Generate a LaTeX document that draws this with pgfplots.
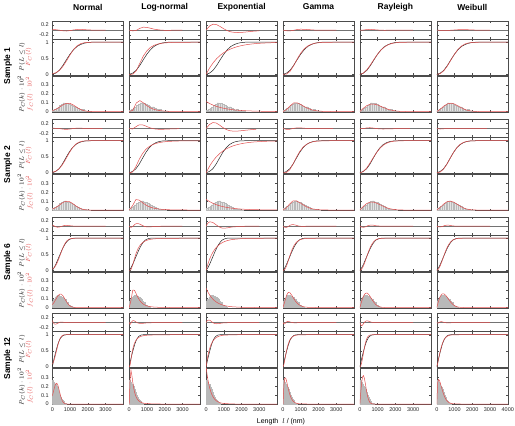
\documentclass[border=0pt]{standalone}
\usepackage{fontspec}
\setmainfont{Liberation Sans}
\usepackage{pgfplots}
\usepackage{pgfplotstable}
\pgfplotsset{compat=1.18}
\definecolor{fitred}{RGB}{226,78,78}

\pgfplotstableread{
l P FN fN RN FL fL RL FE fE RE FG fG RG FR fR RR FW fW RW
0 0 0.017 0.0103 0.017 0 0 0 0 0.1129 0 0 0 0 0 0 0 0 0 0
200 0.04 0.051 0.0251 0.011 0.0048 0.0139 -0.035 0.202 0.0901 0.162 0.0103 0.0235 -0.030 0.039 0.0384 -0.001 0.0244 0.0277 -0.016
400 0.13 0.124 0.0487 -0.006 0.1145 0.0968 -0.016 0.363 0.0719 0.233 0.094 0.0649 -0.036 0.148 0.0682 0.018 0.1145 0.0619 -0.015
600 0.28 0.248 0.0753 -0.032 0.3475 0.1232 0.068 0.492 0.0574 0.212 0.270 0.0963 -0.010 0.302 0.0837 0.022 0.266 0.0869 -0.014
800 0.46 0.419 0.0930 -0.041 0.5726 0.0981 0.113 0.595 0.0457 0.135 0.479 0.098 0.019 0.473 0.0843 0.013 0.451 0.0944 -0.009
1000 0.63 0.607 0.0916 -0.023 0.7354 0.0655 0.105 0.677 0.0365 0.047 0.662 0.0795 0.032 0.632 0.0736 0.002 0.632 0.0846 0.002
1200 0.77 0.773 0.0718 0.003 0.8399 0.0406 0.070 0.742 0.0291 -0.028 0.797 0.0558 0.027 0.763 0.0569 -0.007 0.781 0.0637 0.011
1400 0.87 0.890 0.0449 0.020 0.9035 0.0244 0.034 0.794 0.0233 -0.076 0.885 0.0352 0.015 0.859 0.0395 -0.011 0.886 0.0408 0.016
1600 0.93 0.955 0.0224 0.025 0.9418 0.0146 0.012 0.836 0.0185 -0.094 0.9376 0.0206 0.008 0.923 0.0247 -0.007 0.948 0.0222 0.018
1800 0.97 0.985 0.0089 0.015 0.9645 0.0087 -0.005 0.869 0.0148 -0.101 0.9675 0.0115 -0.002 0.961 0.0141 -0.009 0.979 0.0104 0.009
2000 0.99 0.996 0.0028 0.006 0.9781 0.0052 -0.012 0.895 0.0119 -0.095 0.9835 0.0061 -0.006 0.982 0.0073 -0.008 0.9927 0.0041 0.003
2200 1 0.999 0.0007 -0.001 0.9863 0.0032 -0.014 0.917 0.0094 -0.083 0.9918 0.0031 -0.008 0.992 0.0035 -0.008 0.9978 0.0014 -0.002
2400 1 1 0.0001 0 0.9913 0.0019 -0.009 0.933 0.0076 -0.067 0.996 0.0016 -0.004 0.9969 0.0015 -0.003 0.9994 0.0004 -0.001
2600 1 1 0 0 0.9945 0.0012 -0.005 0.947 0.0060 -0.053 0.998 0.0008 -0.002 0.9988 0.0006 -0.001 1 0.0001 0
2800 1 1 0 0 0.9964 0.0008 -0.004 0.958 0.0047 -0.042 0.9991 0.0004 -0.001 1 0.0002 0 1 0 0
3000 1 1 0 0 0.9977 0.0005 -0.002 0.966 0.0038 -0.034 0.9996 0.0001 0 1 0 0 1 0 0
3500 1 1 0 nan 0.9991 0.0002 nan 0.981 0.0021 nan 1 0 nan 1 0 nan 1 0 nan
4000 1 1 0 nan 0.9997 0.0001 nan 0.989 0.0012 nan 1 0 nan 1 0 nan 1 0 nan
}\tA

\pgfplotstableread{
l P FN fN RN FL fL RL FE fE RE FG fG RG FR fR RR FW fW RW
0 0 0.017 0.011 0.017 0 0 0 0 0.1202 0 0 0 0 0 0 0 0 0 0
188 0.045 0.051 0.0267 0.006 0.0241 0.0486 -0.021 0.202 0.0960 0.157 0.0103 0.025 -0.035 0.039 0.0409 -0.006 0.0244 0.0295 -0.021
376 0.125 0.124 0.0519 -0.001 0.1955 0.1184 0.071 0.363 0.0766 0.238 0.094 0.0691 -0.031 0.148 0.0726 0.023 0.1145 0.0659 -0.011
563 0.27 0.248 0.0802 -0.022 0.418 0.1119 0.148 0.492 0.0611 0.222 0.270 0.1026 0 0.302 0.0891 0.032 0.266 0.0925 -0.004
751 0.455 0.419 0.0990 -0.036 0.602 0.0829 0.147 0.595 0.0487 0.140 0.479 0.1044 0.024 0.473 0.0898 0.018 0.451 0.1005 -0.004
939 0.635 0.607 0.0976 -0.028 0.732 0.0566 0.097 0.677 0.0389 0.042 0.662 0.0847 0.027 0.632 0.0784 -0.003 0.632 0.0901 -0.003
1127 0.78 0.773 0.0765 -0.007 0.819 0.0376 0.039 0.742 0.0310 -0.038 0.797 0.0594 0.017 0.763 0.0606 -0.017 0.781 0.0678 0.001
1315 0.88 0.890 0.0478 0.010 0.877 0.0249 -0.003 0.794 0.0248 -0.086 0.885 0.0375 0.005 0.859 0.0421 -0.021 0.886 0.0435 0.006
1502 0.94 0.955 0.0239 0.015 0.9156 0.0166 -0.024 0.836 0.0197 -0.104 0.9376 0.0219 -0.002 0.923 0.0263 -0.017 0.948 0.0236 0.008
1690 0.975 0.985 0.0095 0.010 0.9413 0.0112 -0.034 0.869 0.0158 -0.106 0.9675 0.0122 -0.008 0.961 0.0150 -0.014 0.979 0.0111 0.004
1878 0.992 0.996 0.0030 0.004 0.9587 0.0076 -0.033 0.895 0.0127 -0.097 0.9835 0.0065 -0.008 0.982 0.0078 -0.010 0.9927 0.0044 0.001
2066 0.998 0.999 0.0007 0.001 0.9706 0.0052 -0.027 0.917 0.0100 -0.081 0.9918 0.0033 -0.006 0.992 0.0037 -0.006 0.9978 0.0015 0
2254 1 1 0.0001 0 0.9789 0.0036 -0.021 0.933 0.0081 -0.067 0.996 0.0017 -0.004 0.9969 0.0016 -0.003 0.9994 0.0004 -0.001
2441 1 1 0 0 0.9846 0.0026 -0.015 0.947 0.0064 -0.053 0.998 0.0009 -0.002 0.9988 0.0006 -0.001 1 0.0001 0
2629 1 1 0 0 0.9887 0.0018 -0.011 0.958 0.0050 -0.042 0.9991 0.0004 -0.001 1 0.0002 0 1 0 0
2817 1 1 0 0 0.9916 0.0013 -0.008 0.966 0.0040 -0.034 0.9996 0.0001 0 1 0 0 1 0 0
3286 1 1 0 nan 0.9958 0.0006 nan 0.981 0.0022 nan 1 0 nan 1 0 nan 1 0 nan
3756 1 1 0 nan 0.9978 0.0003 nan 0.989 0.0013 nan 1 0 nan 1 0 nan 1 0 nan
4000 1 1 0 nan 0.9984 0.0002 nan 0.992 0.0010 nan 1 0 nan 1 0 nan 1 0 nan
}\tB

\pgfplotstableread{
l P FN fN RN FL fL RL FE fE RE FG fG RG FR fR RR FW fW RW
0 0 0.0384 0.0321 0.038 0 0 0 0 0.2174 0 0 0 0 0 0 0 0 0 0
100 0.08 0.083 0.0588 0.003 0.0221 0.0810 -0.058 0.195 0.1750 0.115 0.0269 0.068 -0.053 0.0364 0.0715 -0.044 0.043 0.0755 -0.037
200 0.19 0.159 0.0930 -0.031 0.172 0.1961 -0.018 0.3526 0.1408 0.163 0.136 0.1379 -0.054 0.138 0.128 -0.052 0.151 0.1275 -0.039
300 0.32 0.269 0.1270 -0.051 0.3735 0.1942 0.054 0.479 0.1133 0.159 0.3026 0.1715 -0.017 0.284 0.1595 -0.036 0.298 0.1534 -0.022
400 0.45 0.409 0.1494 -0.041 0.548 0.1524 0.098 0.581 0.0911 0.131 0.479 0.1647 0.029 0.448 0.164 -0.002 0.4577 0.1547 0.008
500 0.58 0.561 0.1516 -0.019 0.678 0.1103 0.098 0.663 0.0733 0.083 0.632 0.1365 0.052 0.6047 0.1467 0.025 0.6073 0.1379 0.027
600 0.70 0.705 0.1327 0.005 0.7715 0.0776 0.072 0.7286 0.0590 0.029 0.752 0.103 0.052 0.7372 0.1171 0.037 0.7335 0.1114 0.034
700 0.80 0.822 0.1002 0.022 0.8367 0.0542 0.037 0.7817 0.0474 -0.018 0.838 0.0724 0.038 0.8378 0.0843 0.038 0.830 0.0823 0.030
800 0.88 0.9045 0.0652 0.025 0.882 0.0380 0.002 0.8244 0.0382 -0.056 0.8967 0.0488 0.017 0.907 0.0552 0.027 0.898 0.0563 0.018
900 0.94 0.9547 0.0367 0.015 0.9142 0.0268 -0.026 0.8587 0.0307 -0.081 0.9356 0.0319 -0.004 0.9506 0.033 0.011 0.9426 0.0358 0.003
1000 0.97 0.981 0.0177 0.011 0.937 0.0190 -0.033 0.8863 0.0247 -0.084 0.9605 0.0202 -0.010 0.9756 0.0181 0.006 0.9695 0.0211 -0.001
1100 0.99 0.9931 0.0074 0.003 0.9531 0.0137 -0.037 0.9085 0.0199 -0.082 0.976 0.0126 -0.014 0.9888 0.0091 -0.001 0.9847 0.0117 -0.005
1200 1 0.9978 0.0027 -0.002 0.9649 0.0099 -0.035 0.9264 0.0160 -0.074 0.9856 0.0077 -0.014 0.9952 0.0043 -0.005 0.9928 0.006 -0.007
1300 1 0.9994 0.0008 -0.001 0.9734 0.0073 -0.027 0.9408 0.0129 -0.059 0.9914 0.0047 -0.009 0.9981 0.0018 -0.002 0.9968 0.003 -0.003
1400 1 1 0.0002 0 0.9797 0.0054 -0.020 0.9523 0.0104 -0.048 0.995 0.0028 -0.005 0.9993 0.0007 -0.001 0.9987 0.0014 -0.001
1500 1 1 0 0 0.9843 0.0040 -0.016 0.9617 0.0083 -0.038 0.997 0.0017 -0.003 1 0.0002 0 0.9995 0.0005 -0.001
2000 1 1 0 0 0.9953 0.0011 -0.005 0.9871 0.0028 -0.013 0.9999 0.0001 0 1 0 0 1 0 0
2500 1 1 0 0 0.9984 0.0003 -0.002 0.9956 0.0009 -0.004 1 0 0 1 0 0 1 0 0
3000 1 1 0 0 0.9994 0.0001 -0.001 0.9985 0.0003 -0.002 1 0 0 1 0 0 1 0 0
3500 1 1 0 nan 0.9997 0 nan 0.9995 0.0001 nan 1 0 nan 1 0 nan 1 0 nan
4000 1 1 0 nan 0.9999 0 nan 0.9998 0 nan 1 0 nan 1 0 nan 1 0 nan
}\tC

\pgfplotstableread{
l P FN fN RN FL fL RL FE fE RE FG fG RG FR fR RR FW fW RW
0 0 0.0817 0.0888 0.082 0 0 0 0 0.422 0 0 0 0 0 0 0 0 0 0
50 0.13 0.1357 0.1282 0.006 0.0547 0.2769 -0.075 0.190 0.3418 0.060 0.0733 0.2104 -0.057 0.0344 0.1352 -0.096 0.1031 0.2422 -0.027
100 0.26 0.2101 0.1696 -0.050 0.2313 0.3807 -0.029 0.344 0.2768 0.084 0.2104 0.2897 -0.050 0.1306 0.2434 -0.129 0.2422 0.2779 -0.018
150 0.37 0.3043 0.2058 -0.066 0.4099 0.3240 0.040 0.469 0.2241 0.099 0.363 0.2934 -0.007 0.2702 0.3065 -0.100 0.381 0.2648 0.011
200 0.48 0.4137 0.2292 -0.066 0.5524 0.2472 0.072 0.570 0.1815 0.090 0.5038 0.2604 0.024 0.4288 0.3199 -0.051 0.507 0.2345 0.027
250 0.58 0.5305 0.2340 -0.050 0.6593 0.1834 0.079 0.652 0.1469 0.072 0.6234 0.2156 0.043 0.583 0.2919 0.003 0.6155 0.1985 0.036
300 0.68 0.6445 0.2191 -0.036 0.7384 0.1356 0.058 0.718 0.1190 0.038 0.7194 0.1704 0.039 0.7163 0.2383 0.036 0.7055 0.1626 0.026
350 0.76 0.747 0.1881 -0.013 0.7971 0.1009 0.037 0.772 0.0962 0.012 0.7938 0.1305 0.034 0.82 0.1764 0.060 0.7781 0.1297 0.018
400 0.83 0.8312 0.1482 0.001 0.8409 0.0758 0.011 0.815 0.0781 -0.015 0.8499 0.0978 0.020 0.8935 0.1193 0.064 0.8352 0.1011 0.005
450 0.88 0.8949 0.1070 0.015 0.874 0.0575 -0.006 0.850 0.0633 -0.030 0.8916 0.0724 0.012 0.9413 0.074 0.061 0.8792 0.0773 -0.001
500 0.92 0.939 0.0709 0.019 0.8992 0.0441 -0.021 0.879 0.0511 -0.041 0.9223 0.0529 0.002 0.9698 0.0423 0.050 0.9125 0.0582 -0.008
550 0.95 0.9672 0.0431 0.017 0.9187 0.0342 -0.031 0.902 0.0414 -0.048 0.9445 0.0381 -0.006 0.9855 0.0223 0.036 0.9374 0.0432 -0.013
600 0.97 0.9836 0.0240 0.014 0.9338 0.0268 -0.036 0.9205 0.0335 -0.050 0.9604 0.0274 -0.010 0.9935 0.0109 0.024 0.9557 0.0316 -0.014
650 0.985 0.9924 0.0123 0.007 0.9458 0.0212 -0.039 0.9356 0.0272 -0.049 0.9719 0.0197 -0.013 0.9973 0.0049 0.012 0.969 0.0228 -0.016
700 0.993 0.9968 0.0058 0.004 0.9553 0.0168 -0.038 0.9479 0.0220 -0.045 0.9801 0.0141 -0.013 0.999 0.0021 0.006 0.9785 0.0162 -0.015
750 0.997 0.9987 0.0025 0.002 0.9628 0.0135 -0.034 0.9578 0.0178 -0.039 0.986 0.0099 -0.011 0.9996 0.0008 0.003 0.9852 0.0114 -0.012
800 1 0.9995 0.0010 0 0.9689 0.0110 -0.031 0.9658 0.0144 -0.034 0.990 0.007 -0.010 1 0.0003 0 0.9899 0.008 -0.010
850 1 0.9998 0.0004 0 0.9738 0.0089 -0.026 0.9723 0.0117 -0.028 0.993 0.005 -0.007 1 0.0001 0 0.9932 0.0055 -0.007
900 1 1 0.0001 0 0.9779 0.0073 -0.022 0.9776 0.0095 -0.022 0.995 0.0035 -0.005 1 0 0 0.9954 0.0038 -0.005
950 1 1 0 0 0.9812 0.0060 -0.019 0.9818 0.0077 -0.018 0.9965 0.0026 -0.004 1 0 0 0.997 0.0026 -0.003
1000 1 1 0 0 0.984 0.0050 -0.016 0.9853 0.0062 -0.015 0.9976 0.0018 -0.002 1 0 0 0.998 0.0017 -0.002
1500 1 1 0 0 0.996 0.0010 -0.004 0.9982 0.0008 -0.002 0.9999 0.0001 0 1 0 0 1 0.0001 0
2000 1 1 0 0 0.9987 0.0003 -0.001 0.9998 0.0001 0 1 0 0 1 0 0 1 0 0
3000 1 1 0 0 0.9998 0 0 1 0 0 1 0 0 1 0 0 1 0 0
4000 1 1 0 nan 1 0 nan 1 0 nan 1 0 nan 1 0 nan 1 0 nan
}\tD

\pgfplotstableread{
l h
0 0.015
100 0.025
200 0.035
300 0.05
400 0.07
500 0.08
600 0.1
700 0.09
800 0.095
900 0.08
1000 0.075
1100 0.065
1200 0.05
1300 0.055
1400 0.035
1500 0.03
1600 0.02
1700 0.025
1800 0.01
1900 0.008
2000 0.005
2100 0.003
2200 0.003
}\hA

\pgfplotstableread{
l h
0 0.02
100 0.03
200 0.04
300 0.06
400 0.075
500 0.09
600 0.1
700 0.105
800 0.095
900 0.09
1000 0.08
1100 0.07
1200 0.055
1300 0.045
1400 0.035
1500 0.025
1600 0.015
1700 0.012
1800 0.008
1900 0.004
2000 0.002
2100 0.002
}\hB

\pgfplotstableread{
l h
0 0.07
50 0.09
100 0.10
150 0.12
200 0.13
250 0.14
300 0.12
350 0.14
400 0.13
450 0.13
500 0.12
550 0.12
600 0.11
650 0.10
700 0.09
750 0.07
800 0.06
850 0.06
900 0.03
950 0.03
1000 0.02
1050 0.02
1100 0.01
1150 0.01
1200 0.01
}\hC

\pgfplotstableread{
l h
0 0.27
50 0.25
100 0.21
150 0.23
200 0.20
250 0.19
300 0.17
350 0.13
400 0.10
450 0.08
500 0.06
550 0.04
600 0.03
650 0.016
700 0.008
750 0.006
800 0.006
}\hD

\pgfplotsset{
  panel/.style={scale only axis, width=71pt, xmin=0, xmax=4000,
    xtick={0,1000,2000,3000,4000}, xticklabels={}, yticklabels={},
    axis line style={black!70, line width=0.45pt},
    every tick/.style={black!70, line width=0.4pt},
    major tick length=2pt, tick align=inside,
    ticklabel style={font=\fontsize{5.5}{6}\selectfont, text=black!85},
    /pgf/number format/assume math mode=true},
  res/.style={panel, height=18pt, ymin=-0.36, ymax=0.36, ytick={-0.2,0.2}},
  cdf/.style={panel, height=36pt, ymin=-0.02, ymax=1.1, ytick={0,0.5,1}},
  his/.style={panel, height=36pt, ymin=-0.005, ymax=0.4, ytick={0,0.1,0.2,0.3}},
  res first/.style={yticklabels={-0.2,0.2}}, res other/.style={},
  cdf first/.style={yticklabels={0,0.5,1}}, cdf other/.style={},
  his first/.style={yticklabels={0,0.1,0.2,0.3}}, his other/.style={},
  his mid/.style={}, his bot/.style={xticklabels={0,1000,2000,3000,{}}},
  his last/.style={xticklabels={0,1000,2000,3000,4000}},
  fitline/.style={fitred, line width=0.5pt},
  empline/.style={black!85, line width=0.5pt},
}

% #1 x-left, #2 top, #3 table, #4 fit, #5 hist table, #6 first/other, #7 mid/bot/last
\newcommand\blk[7]{%
  \begin{axis}[res, at={(#1pt,-#2pt)}, anchor=north west, res #6]
    \addplot[black!55, line width=0.4pt] coordinates {(0,0) (4000,0)};
    \addplot[fitline, unbounded coords=jump] table[x=l,y=R#4]{#3};
  \end{axis}
  \begin{axis}[cdf, at={(#1pt,-#2pt-18pt)}, anchor=north west, cdf #6]
    \addplot[empline] table[x=l,y=P]{#3};
    \addplot[fitline] table[x=l,y=F#4]{#3};
  \end{axis}
  \begin{axis}[his, at={(#1pt,-#2pt-55pt)}, anchor=north west, his #6, his #7]
    \addplot[ybar interval, fill=gray!22, draw=gray!55, line width=0.15pt] table[x=l,y=h]{#5};
    \addplot[fitline] table[x=l,y=f#4]{#3};
  \end{axis}
}

\newcommand\row[4]{% #1 top, #2 table, #3 hist, #4 mid/bot
  \blk{52.3}{#1}{#2}{N}{#3}{first}{#4}
  \blk{129.2}{#1}{#2}{L}{#3}{other}{#4}
  \blk{206.1}{#1}{#2}{E}{#3}{other}{#4}
  \blk{283.0}{#1}{#2}{G}{#3}{other}{#4}
  \blk{359.9}{#1}{#2}{R}{#3}{other}{#4}
}

\begin{document}
\begin{tikzpicture}
\useasboundingbox (0,0) rectangle (515pt,-426pt);
\row{21}{\tA}{\hA}{mid}
\blk{436.8}{21}{\tA}{W}{\hA}{other}{mid}
\row{119.5}{\tB}{\hB}{mid}
\blk{436.8}{119.5}{\tB}{W}{\hB}{other}{mid}
\row{217}{\tC}{\hC}{mid}
\blk{436.8}{217}{\tC}{W}{\hC}{other}{mid}
\row{313.5}{\tD}{\hD}{bot}
\blk{436.8}{313.5}{\tD}{W}{\hD}{other}{last}

\foreach \t/\x in {Normal/87.8, Log-normal/164.7, Exponential/241.6, Gamma/318.5, Rayleigh/395.4, Weibull/472.3}
  \node[font=\bfseries\fontsize{8.5}{9}\selectfont] at (\x pt,-7pt) {\t};
\foreach \t/\y in {1/21, 2/119.5, 6/217, 12/313.5} {
  \node[rotate=90, font=\bfseries\fontsize{8.5}{9}\selectfont] at (8pt,{-(\y+45)*1pt}) {Sample \t};
  \node[rotate=90, align=center, font=\fontsize{6}{6.5}\selectfont] at (25.5pt,{-(\y+36)*1pt}) {$P(L\le l)$\\\textcolor{fitred}{$F_C(l)$}};
  \node[rotate=90, align=center, font=\fontsize{6}{6.5}\selectfont] at (25.5pt,{-(\y+73)*1pt}) {$P_C(k)\cdot10^2$\\\textcolor{fitred}{$f_C(l)\cdot10^2$}};
}
\node[font=\fontsize{7}{8}\selectfont] at (281pt,-422pt) {Length \ $l$ / (nm)};
\end{tikzpicture}
\end{document}
